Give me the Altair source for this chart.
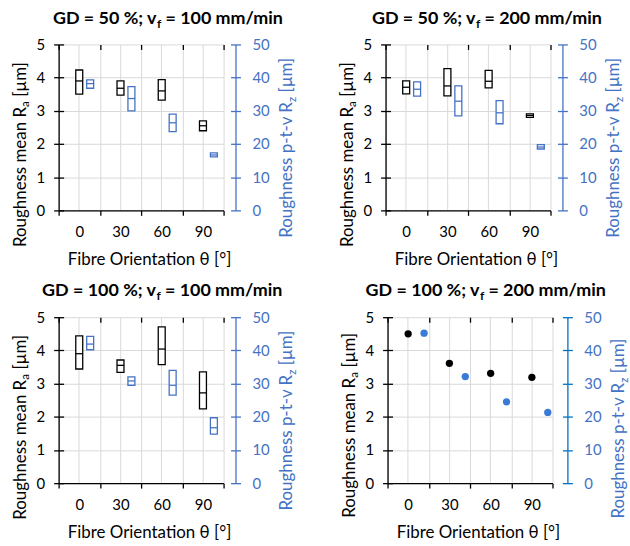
import altair as alt
import pandas as pd

ANGLES = ["0", "30", "60", "90"]
RA_TICKS = [0, 1, 2, 3, 4, 5]
RZ_TICKS = [0, 10, 20, 30, 40, 50]

TITLE_MAIN = ["GD = 50 %; v", "GD = 50 %; v", "GD = 100 %; v", "GD = 100 %; v"]
TITLE_SUB = "f"
TITLE_REST = ["= 100 mm/min", "= 200 mm/min", "= 100 mm/min", "= 200 mm/min"]
X_TITLE = "Fibre Orientation θ [°]"
YL_TITLE = ["Roughness mean  R", "a", "[µm]"]
YR_TITLE = ["Roughness p-t-v R", "z", "[µm]"]

# Panel 1: GD = 50 %, vf = 100 mm/min (box: low / median / high)
P1_RA_LOW = [3.50, 3.47, 3.32, 2.40]
P1_RA_MED = [3.90, 3.68, 3.60, 2.55]
P1_RA_HIGH = [4.23, 3.90, 3.94, 2.70]
P1_RZ_LOW = [36.8, 30.0, 23.7, 16.1]
P1_RZ_MED = [38.2, 33.7, 26.4, 16.7]
P1_RZ_HIGH = [39.3, 37.3, 29.0, 17.3]

# Panel 2: GD = 50 %, vf = 200 mm/min
P2_RA_LOW = [3.51, 3.45, 3.69, 2.80]
P2_RA_MED = [3.71, 3.75, 3.89, 2.86]
P2_RA_HIGH = [3.90, 4.27, 4.22, 2.91]
P2_RZ_LOW = [34.4, 28.5, 26.1, 18.5]
P2_RZ_MED = [36.5, 32.9, 29.4, 19.1]
P2_RZ_HIGH = [38.7, 37.5, 33.1, 19.8]

# Panel 3: GD = 100 %, vf = 100 mm/min
P3_RA_LOW = [3.44, 3.34, 3.57, 2.24]
P3_RA_MED = [3.90, 3.55, 4.04, 2.72]
P3_RA_HIGH = [4.44, 3.71, 4.71, 3.35]
P3_RZ_LOW = [40.2, 29.5, 26.5, 14.8]
P3_RZ_MED = [41.9, 30.8, 29.5, 16.7]
P3_RZ_HIGH = [44.2, 32.0, 34.0, 19.7]

# Panel 4: GD = 100 %, vf = 200 mm/min (single values)
P4_RA = [4.50, 3.61, 3.31, 3.19]
P4_RZ = [45.2, 32.1, 24.5, 21.3]

FONT = "Lato"
BLACK = "#000000"
BLUE = "#4472c4"
BLUE_AX4 = "#0070c0"
BLUE_PT = "#3a7bd5"
GRID = "#d9d9d9"
W, H = 166, 167
LBL = 15
TTL = 17
SUB = 11.5
HEAD = 18
HEAD_SUB = 12
BOX_W = 7
BOX_OFF = 11
PT_OFF = 16
PT = 54


def txt(s, x, y, size, color, weight="normal", align="left", angle=0, dx=0, dy=0):
    return alt.Chart(pd.DataFrame({"t": [s]})).mark_text(
        font=FONT, fontSize=size, fontWeight=weight, color=color, align=align,
        baseline="alphabetic", angle=angle, dx=dx, dy=dy
    ).encode(x=alt.value(x), y=alt.value(y), text="t:N")


def header(i, j):
    y = -21
    return [
        txt(TITLE_MAIN[i], j, y, HEAD, BLACK, "bold", "right"),
        txt(TITLE_SUB, j + 0.5, y, HEAD_SUB, BLACK, "bold", "left", dy=4),
        txt(TITLE_REST[i], j + 9, y, HEAD, BLACK, "bold", "left"),
    ]


def ytitle(parts, x, yj, color, gap):
    return [
        txt(parts[0], x, yj, TTL, color, align="right", angle=270),
        txt(parts[1], x, yj, SUB, color, align="left", angle=270, dy=3.5),
        txt(parts[2], x, yj - gap, TTL, color, align="left", angle=270),
    ]


def x_axes():
    main = alt.Axis(title=X_TITLE, tickBand="extent", grid=True, gridColor=GRID, gridWidth=1,
                    domainColor=BLACK, domainWidth=1.3, tickColor=BLACK, tickWidth=1.3, tickSize=5,
                    labelFont=FONT, labelFontSize=LBL, labelColor=BLACK, labelPadding=9.5, labelAngle=0,
                    titleFont=FONT, titleFontSize=TTL, titleFontWeight="normal", titleColor=BLACK,
                    titlePadding=12, titleX=91)
    inner = alt.Axis(title=None, tickBand="extent", offset=-5, grid=False, domain=False, labels=False,
                     tickColor=BLACK, tickWidth=1.3, tickSize=5)
    gridc = alt.Axis(title=None, grid=True, gridColor=GRID, gridWidth=1, domain=False, labels=False,
                     ticks=False)
    return main, inner, gridc


def y_left():
    main = alt.Axis(orient="left", title=None, values=RA_TICKS, grid=True, gridColor=GRID, gridWidth=1,
                    domainColor=BLACK, domainWidth=1.3, tickColor=BLACK, tickWidth=1.3, tickSize=5,
                    labelFont=FONT, labelFontSize=LBL, labelColor=BLACK, labelPadding=9)
    inner = alt.Axis(orient="left", title=None, values=RA_TICKS, offset=-5, grid=False, domain=False,
                     labels=False, tickColor=BLACK, tickWidth=1.3, tickSize=5)
    return main, inner


def y_right(off, line_color):
    main = alt.Axis(orient="right", title=None, values=RZ_TICKS, offset=off, grid=False,
                    domainColor=line_color, domainWidth=1.3, tickColor=line_color, tickWidth=1.3, tickSize=5,
                    labelFont=FONT, labelFontSize=LBL, labelColor=BLUE, labelPadding=11.5)
    inner = alt.Axis(orient="right", title=None, values=RZ_TICKS, offset=off - 5, grid=False, domain=False,
                     labels=False, tickColor=line_color, tickWidth=1.3, tickSize=5)
    return main, inner


def scales():
    xs = alt.Scale(type="band", domain=ANGLES, paddingInner=0, paddingOuter=0)
    ras = alt.Scale(domain=[0, 5], nice=False)
    rzs = alt.Scale(domain=[0, 50], nice=False)
    return xs, ras, rzs


def box_panel(ra_low, ra_med, ra_high, rz_low, rz_med, rz_high, idx, j):
    ra = pd.DataFrame({"angle": ANGLES, "low": ra_low, "med": ra_med, "high": ra_high})
    rz = pd.DataFrame({"angle": ANGLES, "low": rz_low, "med": rz_med, "high": rz_high})
    xm, xi, xg = x_axes()
    ylm, yli = y_left()
    yrm, yri = y_right(12, BLUE)
    xs, ras, rzs = scales()
    ra_box = alt.Chart(ra).mark_bar(width=BOX_W, fill="white", stroke=BLACK, strokeWidth=1.3,
                                    opacity=1).encode(
        x=alt.X("angle:N", scale=xs, sort=ANGLES, axis=xm),
        y=alt.Y("low:Q", scale=ras, axis=ylm), y2="high:Q")
    ra_md = alt.Chart(ra).mark_tick(size=BOX_W, thickness=1.3, color=BLACK, opacity=1).encode(
        x=alt.X("angle:N", scale=xs, sort=ANGLES, axis=xi),
        y=alt.Y("med:Q", scale=ras, axis=yli))
    rz_box = alt.Chart(rz).mark_bar(width=BOX_W, fill="white", stroke=BLUE, strokeWidth=1.3,
                                    opacity=1, xOffset=BOX_OFF).encode(
        x=alt.X("angle:N", scale=xs, sort=ANGLES, axis=xg),
        y=alt.Y("low:Q", scale=rzs, axis=yrm), y2="high:Q")
    rz_md = alt.Chart(rz).mark_tick(size=BOX_W, thickness=1.3, color=BLUE, opacity=1,
                                    xOffset=BOX_OFF).encode(
        x=alt.X("angle:N", scale=xs, sort=ANGLES, axis=None),
        y=alt.Y("med:Q", scale=rzs, axis=yri))
    texts = header(idx, j) + ytitle(YL_TITLE, -33, 63, BLACK, 10.3) + ytitle(YR_TITLE, W + 69, 58, BLUE, 9.6)
    return alt.layer(ra_box, ra_md, rz_box, rz_md, *texts).resolve_scale(
        y="independent").resolve_axis(x="independent", y="independent").properties(width=W, height=H)


def point_panel(ra_vals, rz_vals, idx, j):
    ra = pd.DataFrame({"angle": ANGLES, "v": ra_vals})
    rz = pd.DataFrame({"angle": ANGLES, "v": rz_vals})
    xm, xi, xg = x_axes()
    ylm, yli = y_left()
    yrm, yri = y_right(15, BLUE_AX4)
    xs, ras, rzs = scales()
    ra_pt = alt.Chart(ra).mark_circle(size=PT, color=BLACK, opacity=1).encode(
        x=alt.X("angle:N", scale=xs, sort=ANGLES, axis=xm),
        y=alt.Y("v:Q", scale=ras, axis=ylm))
    rz_pt = alt.Chart(rz).mark_circle(size=PT, color=BLUE_PT, opacity=1, xOffset=PT_OFF).encode(
        x=alt.X("angle:N", scale=xs, sort=ANGLES, axis=xg),
        y=alt.Y("v:Q", scale=rzs, axis=yrm))
    ra_inv = alt.Chart(ra).mark_circle(size=PT, opacity=0).encode(
        x=alt.X("angle:N", scale=xs, sort=ANGLES, axis=xi),
        y=alt.Y("v:Q", scale=ras, axis=yli))
    rz_inv = alt.Chart(rz).mark_circle(size=PT, opacity=0, xOffset=PT_OFF).encode(
        x=alt.X("angle:N", scale=xs, sort=ANGLES, axis=None),
        y=alt.Y("v:Q", scale=rzs, axis=yri))
    texts = header(idx, j) + ytitle(YL_TITLE, -33, 61, BLACK, 10.3) + ytitle(YR_TITLE, W + 72, 66, BLUE, 9.6)
    return alt.layer(ra_pt, rz_pt, ra_inv, rz_inv, *texts).resolve_scale(
        y="independent").resolve_axis(x="independent", y="independent").properties(width=W, height=H)


p1 = box_panel(P1_RA_LOW, P1_RA_MED, P1_RA_HIGH, P1_RZ_LOW, P1_RZ_MED, P1_RZ_HIGH, 0, 98.5)
p2 = box_panel(P2_RA_LOW, P2_RA_MED, P2_RA_HIGH, P2_RZ_LOW, P2_RZ_MED, P2_RZ_HIGH, 1, 90.5)
p3 = box_panel(P3_RA_LOW, P3_RA_MED, P3_RA_HIGH, P3_RZ_LOW, P3_RZ_MED, P3_RZ_HIGH, 2, 98)
p4 = point_panel(P4_RA, P4_RZ, 3, 92.5)

row1 = alt.hconcat(p1, p2, spacing=40)
row2 = alt.hconcat(p3, p4, spacing=42)
chart = alt.vconcat(row1, row2, spacing=14.5).properties(
    padding={"left": 11, "top": 8, "right": 0, "bottom": 0}
).configure_view(stroke=None)

chart.save("out.html", embed_options={"renderer": "svg", "actions": False})
